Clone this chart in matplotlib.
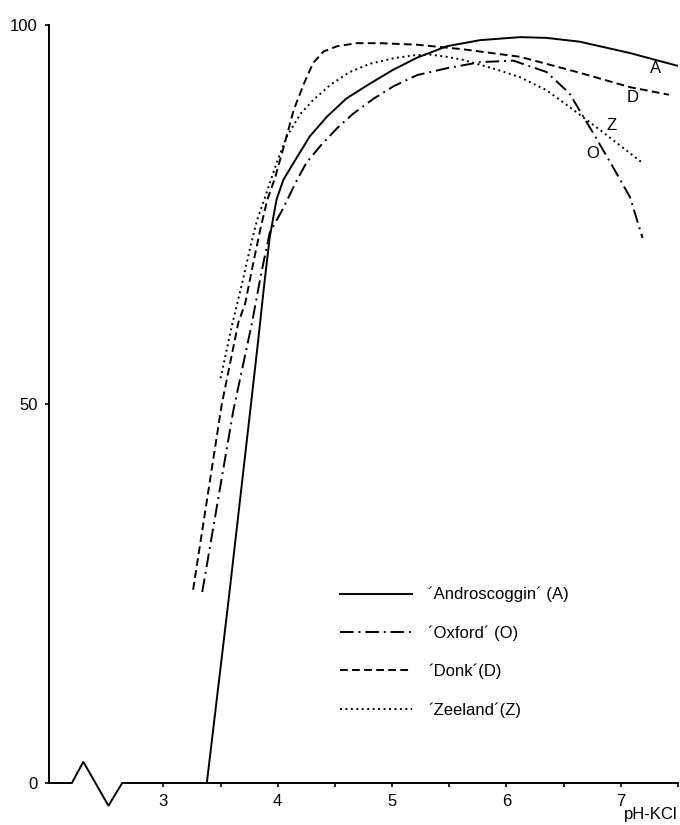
import numpy as np
import matplotlib
matplotlib.use("Agg")
import matplotlib.pyplot as plt

plt.rcParams['font.family'] = ['Liberation Sans', 'DejaVu Sans']

# pH-KCl vs relative yield (%) for four cultivars
andro_x = [3.38, 3.57, 3.77, 3.83, 3.88, 3.93, 3.99, 4.05, 4.17, 4.28, 4.43, 4.60,
           4.81, 5.01, 5.22, 5.48, 5.77, 6.12, 6.35, 6.64, 7.08, 7.50]
andro_y = [0, 24.1, 50.5, 58.5, 65.5, 72.0, 77.0, 79.6, 82.6, 85.3, 87.9, 90.3,
           92.3, 94.1, 95.7, 97.2, 98.0, 98.4, 98.3, 97.8, 96.3, 94.6]

oxford_x = [3.34, 3.61, 3.775, 3.85, 3.93, 4.04, 4.17, 4.25, 4.37, 4.52, 4.66, 4.84,
            5.01, 5.22, 5.48, 5.77, 6.06, 6.35, 6.55, 6.76, 6.93, 7.08, 7.19]
oxford_y = [25.2, 49.0, 60.7, 66.8, 72.6, 75.6, 79.6, 81.8, 84.0, 86.4, 88.3, 90.3,
            91.9, 93.4, 94.3, 95.1, 95.3, 93.8, 91.0, 85.7, 81.3, 77.3, 71.9]

donk_x = [3.26, 3.51, 3.655, 3.716, 3.786, 3.847, 3.908, 3.978, 4.05, 4.14, 4.23,
          4.31, 4.40, 4.52, 4.69, 4.90, 5.22, 5.62, 6.12, 6.64, 7.08, 7.42]
donk_y = [25.5, 49.9, 60.7, 63.3, 68.6, 73.0, 76.9, 79.9, 83.8, 88.8, 92.3,
          95.0, 96.5, 97.2, 97.6, 97.6, 97.4, 96.8, 95.8, 93.7, 91.8, 90.8]

zee_x = [3.50, 3.60, 3.69, 3.76, 3.82, 3.89, 3.99, 4.08, 4.20, 4.31, 4.46, 4.63, 4.81,
         5.01, 5.19, 5.33, 5.48, 5.62, 5.92, 6.12, 6.35, 6.55, 6.84, 7.19]
zee_y = [53.4, 60.4, 66.0, 70.7, 74.3, 77.3, 81.8, 85.3, 88.3, 90.1, 92.1, 93.8, 94.9,
         95.6, 96.0, 96.1, 95.8, 95.4, 94.1, 93.1, 91.4, 89.2, 85.9, 81.8]

labels = ["´Androscoggin´ (A)", "´Oxford´ (O)", "´Donk´(D)", "´Zeeland´(Z)"]
tags = ["A", "O", "D", "Z"]
tag_x = [7.30, 6.75, 7.10, 6.92]
tag_y = [94.3, 83.1, 90.5, 86.8]

x_ticks = [3, 4, 5, 6, 7]
y_ticks = [0, 50, 100]

# axis break decoration on the x axis
brk_x = [2.0, 2.2, 2.3, 2.52, 2.64, 7.5]
brk_y = [0, 0, 2.8, -3.0, 0, 0]

fig = plt.figure(figsize=(6.8, 8.25), dpi=100)
ax = fig.add_axes([49/680, 42/825, 629/680, 758/825])

lw = 1.4
ax.plot(andro_x, andro_y, color='black', lw=lw, ls='-', label=labels[0])
ax.plot(oxford_x, oxford_y, color='black', lw=lw, ls=(0, (7, 2.5, 1, 2.5)), label=labels[1])
ax.plot(donk_x, donk_y, color='black', lw=lw, ls=(0, (4, 2.2)), label=labels[2])
ax.plot(zee_x, zee_y, color='black', lw=lw, ls=(0, (1, 1.8)), label=labels[3])

for t, tx, ty in zip(tags, tag_x, tag_y):
    ax.text(tx, ty, t, fontsize=12, ha='center', va='center')

ax.plot(brk_x, brk_y, color='black', lw=1.4, clip_on=False, solid_joinstyle='miter')

ax.set_xlim(2.0, 7.5)
ax.set_ylim(0, 100)
for s in ['top', 'right', 'bottom']:
    ax.spines[s].set_visible(False)
ax.spines['left'].set_linewidth(1.4)

ax.set_xticks(x_ticks)
ax.set_xticks([3.5, 4.5, 5.5, 6.5, 7.5], minor=True)
ax.set_yticks(y_ticks)
ax.tick_params(axis='both', which='both', direction='out', length=3, width=1.2,
               labelsize=12, pad=5)

fig.text(678/680, 10/825, "pH-KCl", fontsize=12, ha='right', va='center')

ax.legend(loc='upper left', bbox_to_anchor=(340/680, 1 - 587/825),
          bbox_transform=fig.transFigure, frameon=False, fontsize=12,
          handlelength=4.3, handletextpad=1.0, labelspacing=1.37,
          borderpad=0, borderaxespad=0)

fig.savefig("out.png", dpi=100)
